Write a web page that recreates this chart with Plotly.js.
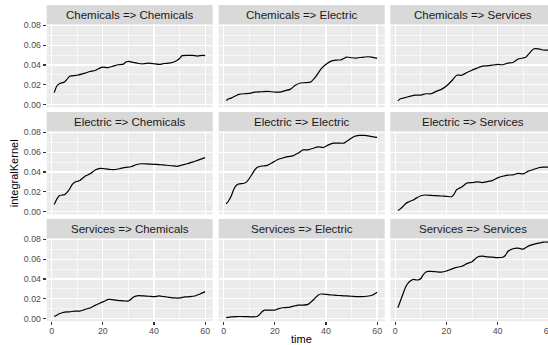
<!DOCTYPE html>
<html>
<head>
<meta charset="utf-8">
<script src="https://cdn.plot.ly/plotly-3.0.1.min.js"></script>
<style>
html,body{margin:0;padding:0;overflow:hidden;background:#fff;}
#chart{width:562px;height:345px;}
</style>
</head>
<body>
<div id="chart"></div>
<script>
// ---- data ----
const stripLabels = [
  "Chemicals => Chemicals", "Chemicals => Electric", "Chemicals => Services",
  "Electric => Chemicals", "Electric => Electric", "Electric => Services",
  "Services => Chemicals", "Services => Electric", "Services => Services"
];
const xTickVals = [0, 20, 40, 60];
const yTickVals = [0, 0.02, 0.04, 0.06, 0.08];

const ccT = [1,2,3,5,6,7,9,10,13,15,17,19,20,22,24,26,28,29,30,32,34,36,38,40,42,44,46,48,50,51,53,55,57,59,60];
const ccV = [0.012,0.0187,0.021,0.0228,0.0255,0.0286,0.0293,0.0296,0.0317,0.0334,0.0344,0.0371,0.0378,0.0374,0.0388,0.0402,0.0408,0.0429,0.0436,0.0425,0.0415,0.0412,0.0419,0.0412,0.0405,0.0415,0.0419,0.0432,0.0466,0.0494,0.0497,0.0497,0.049,0.0497,0.0494];

const ceT = [1,2,3,5,6,8,10,12,15,17,20,22,24,26,28,30,32,34,36,38,40,42,44,46,48,50,52,54,56,58,60];
const ceV = [0.0041,0.0058,0.0065,0.0092,0.0102,0.0109,0.0112,0.0126,0.0129,0.0133,0.0126,0.0126,0.014,0.0153,0.0194,0.0218,0.0221,0.0228,0.0283,0.0357,0.0408,0.0439,0.0449,0.0453,0.048,0.0473,0.047,0.0477,0.0483,0.048,0.0466];

const csT = [1,2,4,6,8,10,12,14,16,18,20,22,24,26,28,30,32,34,36,38,40,42,44,46,48,50,51,53,54,56,58,60];
const csV = [0.0037,0.0058,0.0071,0.0085,0.0095,0.0095,0.0109,0.0109,0.0133,0.0153,0.0187,0.0238,0.0296,0.0296,0.0323,0.0347,0.0368,0.0388,0.0391,0.0398,0.0405,0.0402,0.0419,0.0425,0.046,0.047,0.0477,0.0534,0.0562,0.0562,0.0551,0.0551];

const ecT = [1,2,3,4,5,6,7,8,9,10,11,13,15,17,19,21,23,25,27,29,31,33,35,38,41,44,47,49,51,53,55,57,60];
const ecV = [0.0071,0.0126,0.016,0.0167,0.017,0.0194,0.0228,0.0272,0.0296,0.0306,0.0313,0.0357,0.0381,0.0419,0.0436,0.0432,0.0425,0.0425,0.0436,0.0446,0.0453,0.0473,0.0483,0.048,0.0477,0.047,0.0463,0.0456,0.047,0.0483,0.05,0.0517,0.0545];

const eeT = [1,2,3,4,5,6,8,9,10,11,12,13,15,17,19,21,23,25,27,29,31,33,35,37,39,41,43,45,47,49,51,53,55,57,59,60];
const eeV = [0.0078,0.0112,0.016,0.0228,0.0266,0.0279,0.0286,0.03,0.0334,0.0374,0.0415,0.0446,0.046,0.0466,0.0494,0.0524,0.0541,0.0555,0.0562,0.0589,0.0623,0.0623,0.064,0.0654,0.0647,0.0674,0.0691,0.0691,0.0691,0.0725,0.0759,0.0769,0.0769,0.0762,0.0752,0.0749];

const esT = [1,2,3,4,5,6,7,8,10,12,14,16,18,20,22,23,24,25,26,27,28,30,32,34,36,38,40,42,44,46,48,50,52,54,56,58,60];
const esV = [0.001,0.0027,0.0051,0.0078,0.0095,0.0106,0.0116,0.0133,0.016,0.0167,0.0163,0.016,0.0157,0.0153,0.015,0.0177,0.0221,0.0235,0.0248,0.0269,0.0289,0.0293,0.03,0.0293,0.0303,0.0313,0.034,0.0357,0.0368,0.0371,0.0385,0.0381,0.0408,0.0425,0.0443,0.0449,0.0449];

const scT = [1,2,3,5,7,9,11,13,15,17,19,21,22,23,25,27,29,30,31,32,34,36,38,40,42,44,46,48,50,52,54,56,58,60];
const scV = [0.002,0.0034,0.0048,0.0065,0.0068,0.0075,0.0075,0.0092,0.0106,0.0133,0.0157,0.018,0.0194,0.0194,0.0187,0.018,0.0177,0.0177,0.0194,0.0218,0.0231,0.0228,0.0225,0.0221,0.0228,0.0221,0.0214,0.0208,0.0208,0.0218,0.0221,0.0228,0.0248,0.0272];

const seT = [1,3,5,8,11,13,14,15,16,18,20,21,23,25,26,28,29,31,33,35,36,37,38,40,42,44,46,48,50,52,54,56,58,60];
const seV = [0.001,0.0017,0.002,0.002,0.0017,0.002,0.0041,0.0068,0.0085,0.0085,0.0085,0.0095,0.0109,0.0112,0.0116,0.0129,0.0136,0.0136,0.0143,0.0187,0.0214,0.0238,0.0248,0.0245,0.0238,0.0235,0.0231,0.0228,0.0225,0.0221,0.0221,0.0225,0.0235,0.0266];

const ssT = [1,2,3,4,5,6,7,8,9,10,11,12,13,14,16,18,20,22,24,26,28,30,31,32,34,36,38,40,42,43,44,46,48,50,52,54,56,58,60];
const ssV = [0.0109,0.0177,0.0248,0.0317,0.0357,0.0381,0.0395,0.0391,0.039,0.0405,0.0445,0.047,0.0477,0.0477,0.0473,0.047,0.048,0.05,0.0517,0.0528,0.0555,0.0575,0.0596,0.062,0.063,0.0623,0.062,0.0616,0.062,0.0637,0.0677,0.0705,0.0711,0.0701,0.0732,0.0749,0.0762,0.0773,0.0773];

const seriesT = [ccT, ceT, csT, ecT, eeT, esT, scT, seT, ssT];
const seriesV = [ccV, ceV, csV, ecV, eeV, esV, scV, seV, ssV];

// ---- layout geometry (pixels) ----
const W = 562, H = 345;
const colLeft = [46.7, 218.7, 390.3];
const panelW = 166;
const stripTop = [5, 112, 219];
const stripH = 19.3;
const panelH = 83;
const xRange = [-1.95, 62.95];
const yRange = [-0.0028, 0.0811];
const FONT = "Liberation Sans, Arial, Helvetica, sans-serif";

const traces = [];
const layout = {
  width: W, height: H,
  margin: {l: 0, r: 0, t: 0, b: 0},
  paper_bgcolor: "#FFFFFF",
  plot_bgcolor: "#EBEBEB",
  showlegend: false,
  font: {family: FONT, size: 11, color: "#000000"},
  shapes: [],
  annotations: []
};

for (let i = 0; i < 9; i++) {
  const r = Math.floor(i / 3), c = i % 3;
  const suf = i === 0 ? "" : String(i + 1);
  const l = colLeft[c];
  const top = stripTop[r] + stripH;
  const bottom = top + panelH;
  const isBottom = r === 2, isLeft = c === 0;

  layout["xaxis" + suf] = {
    domain: [l / W, (l + panelW) / W],
    range: xRange,
    anchor: "y" + suf,
    tickvals: xTickVals,
    ticktext: xTickVals.map(String),
    showticklabels: isBottom,
    ticks: isBottom ? "outside" : "",
    ticklen: 3, tickwidth: 1.1, tickcolor: "#333333",
    ticklabelstandoff: -2,
    tickfont: {family: FONT, size: 8.8, color: "#4D4D4D"},
    showgrid: true, gridcolor: "#FFFFFF", gridwidth: 1.3,
    minor: {dtick: 10, tick0: 0, showgrid: true, gridcolor: "#FFFFFF", gridwidth: 0.6, ticks: ""},
    zeroline: false, showline: false, fixedrange: true
  };
  layout["yaxis" + suf] = {
    domain: [1 - bottom / H, 1 - top / H],
    range: yRange,
    anchor: "x" + suf,
    tickvals: yTickVals,
    ticktext: yTickVals.map(v => v.toFixed(2)),
    showticklabels: isLeft,
    ticks: isLeft ? "outside" : "",
    ticklen: 3, tickwidth: 1.1, tickcolor: "#333333",
    tickfont: {family: FONT, size: 8.8, color: "#4D4D4D"},
    showgrid: true, gridcolor: "#FFFFFF", gridwidth: 1.3,
    minor: {dtick: 0.01, tick0: 0, showgrid: true, gridcolor: "#FFFFFF", gridwidth: 0.6, ticks: ""},
    zeroline: false, showline: false, fixedrange: true
  };

  traces.push({
    type: "scatter", mode: "lines",
    x: seriesT[i], y: seriesV[i],
    xaxis: "x" + suf, yaxis: "y" + suf,
    line: {color: "#000000", width: 1.2, shape: "spline", smoothing: 0.5},
    hoverinfo: "skip"
  });

  layout.shapes.push({
    type: "rect", xref: "paper", yref: "paper",
    x0: l / W, x1: (l + panelW) / W,
    y0: 1 - (stripTop[r] + stripH) / H, y1: 1 - stripTop[r] / H,
    fillcolor: "#D9D9D9", line: {width: 0}, layer: "below"
  });
  layout.annotations.push({
    xref: "paper", yref: "paper",
    x: (l + panelW / 2) / W, y: 1 - (stripTop[r] + stripH / 2) / H,
    xanchor: "center", yanchor: "middle",
    text: stripLabels[i], showarrow: false,
    font: {family: FONT, size: 11.5, color: "#1A1A1A"}
  });
}

layout.annotations.push({
  xref: "paper", yref: "paper",
  x: (colLeft[0] + colLeft[2] + panelW) / 2 / W, y: 1 - 339.3 / H,
  xanchor: "center", yanchor: "middle",
  text: "time", showarrow: false,
  font: {family: FONT, size: 11, color: "#000000"}
});
layout.annotations.push({
  xref: "paper", yref: "paper",
  x: 14 / W, y: 1 - 173.3 / H,
  xanchor: "center", yanchor: "middle",
  text: "integralKernel", showarrow: false, textangle: -90,
  font: {family: FONT, size: 11, color: "#000000"}
});

Plotly.newPlot("chart", traces, layout, {staticPlot: true, displayModeBar: false});
</script>
</body>
</html>
